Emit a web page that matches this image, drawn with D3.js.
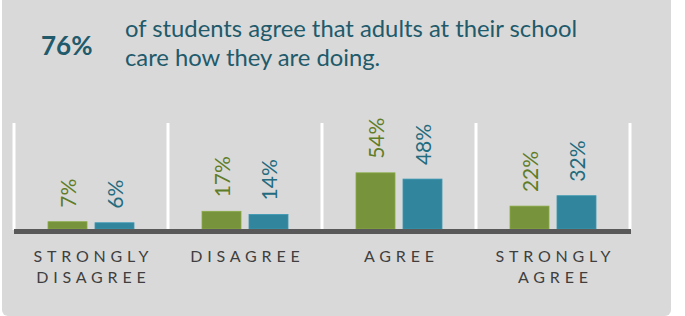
<!DOCTYPE html>
<html>
<head>
<meta charset="utf-8">
<script src="https://cdn.jsdelivr.net/npm/d3@7"></script>
<style>
  html, body { margin: 0; padding: 0; background: #fff; }
  svg { display: block; font-family: Lato, "Open Sans", sans-serif; }
</style>
</head>
<body>
<div id="chart"></div>
<script>
// data
const categories = ["STRONGLY DISAGREE", "DISAGREE", "AGREE", "STRONGLY AGREE"]
const categoryLines = [["STRONGLY", "DISAGREE"], ["DISAGREE"], ["AGREE"], ["STRONGLY", "AGREE"]]
const series = ["green", "blue"]
const greenValues = [7, 17, 54, 22]
const blueValues = [6, 14, 48, 32]
const headline = "76%"
const headlineText = ["of students agree that adults at their school", "care how they are doing."]

const width = 685, height = 316

const barColor = { green: "#77933c", blue: "#31859c" }
const labelColor = { green: "#5f7d28", blue: "#236b7e" }

const svg = d3.select("#chart")
  .append("svg")
  .attr("width", width)
  .attr("height", height)

// grey card
svg.append("rect")
  .attr("x", 2).attr("y", -6)
  .attr("width", 669).attr("height", 322)
  .attr("rx", 6)
  .attr("fill", "#d9d9d9")

// headline
svg.append("text")
  .attr("x", 41).attr("y", 55)
  .attr("font-size", "26px")
  .attr("font-weight", "bold")
  .attr("fill", "#215a6b")
  .text(headline)

svg.append("g").selectAll("text")
  .data(headlineText)
  .enter().append("text")
  .attr("x", 125)
  .attr("y", (d, i) => 37 + i * 29)
  .attr("font-size", "23.8px")
  .attr("fill", "#215a6b")
  .text(d => d)

// scales
const x0 = d3.scaleBand()
  .domain(categories)
  .range([14, 630])
  .padding(0)

const x1 = d3.scaleBand()
  .domain(series)
  .range([34, 120])
  .paddingInner(0.17)

const y = d3.scaleLinear()
  .domain([0, 100])
  .range([229, 125])

const rows = categories.map((c, i) => ({
  cat: c,
  values: [
    { key: "green", v: greenValues[i] },
    { key: "blue", v: blueValues[i] }
  ]
}))

// white separators
const seps = categories.map(c => x0(c)).concat([x0.range()[1]])
svg.append("g").selectAll("line")
  .data(seps)
  .enter().append("line")
  .attr("x1", d => d).attr("x2", d => d)
  .attr("y1", 123).attr("y2", 230)
  .attr("stroke", "#fff")
  .attr("stroke-width", 3)

const g = svg.append("g").selectAll("g")
  .data(rows)
  .enter().append("g")
  .attr("transform", d => "translate(" + x0(d.cat) + ",0)")

g.selectAll("rect")
  .data(d => d.values)
  .enter().append("rect")
  .attr("x", d => x1(d.key))
  .attr("y", d => y(d.v))
  .attr("width", x1.bandwidth())
  .attr("height", d => y(0) - y(d.v))
  .attr("fill", d => barColor[d.key])
  .attr("stroke", d => d3.color(barColor[d.key]).brighter(0.4))
  .attr("stroke-width", 0.8)

g.selectAll("text")
  .data(d => d.values)
  .enter().append("text")
  .attr("transform", d => "translate(" + (x1(d.key) + x1.bandwidth() / 2) + "," + (y(d.v) - 14) + ") rotate(-90)")
  .attr("dominant-baseline", "central")
  .attr("font-size", "21px")
  .attr("fill", d => labelColor[d.key])
  .text(d => d.v + "%")

// baseline
svg.append("rect")
  .attr("x", 14).attr("y", 229)
  .attr("width", 617).attr("height", 5)
  .attr("fill", "#595959")

// category labels
const ls = 4.8
const cat = svg.append("g").selectAll("text")
  .data(categories)
  .enter().append("text")
  .attr("text-anchor", "middle")
  .attr("font-size", "16px")
  .attr("letter-spacing", ls + "px")
  .attr("fill", "#3f3f3f")

cat.selectAll("tspan")
  .data((d, i) => categoryLines[i].map(t => ({ t, c: d })))
  .enter().append("tspan")
  .attr("x", d => x0(d.c) + x0.bandwidth() / 2 + ls / 2)
  .attr("y", (d, i) => 262 + i * 21)
  .text(d => d.t)
</script>
</body>
</html>
